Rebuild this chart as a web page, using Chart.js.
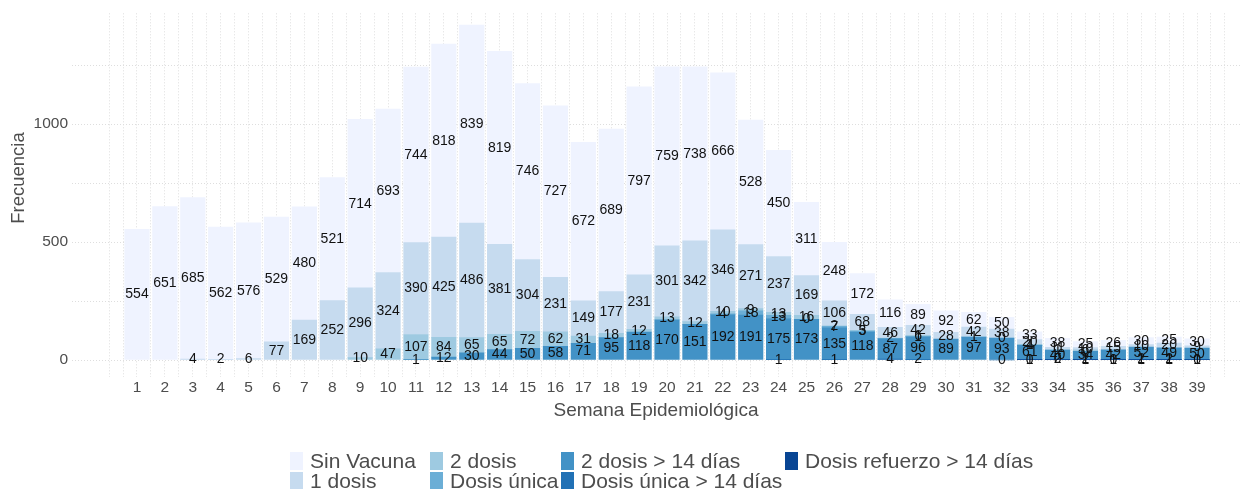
<!DOCTYPE html>
<html>
<head>
<meta charset="utf-8">
<script src="https://cdn.jsdelivr.net/npm/chart.js@4.4.0/dist/chart.umd.min.js"></script>
<style>
  body { margin: 0; background: #fff; }
  #wrap { position: relative; width: 1244px; height: 489px; }
  #legend {
    position: absolute; left: 290px; top: 451px;
    display: grid; grid-template-rows: 20px 20px; grid-template-columns: 140px 131px 224px auto;
    grid-auto-flow: column;
    font-family: "Liberation Sans", Arial, sans-serif; font-size: 21px; color: #4d4d4d;
  }
  .item { display: flex; align-items: center; white-space: nowrap; }
  .sw { width: 13px; height: 18px; margin-right: 7px; flex: none; }
</style>
</head>
<body>
<div id="wrap">
  <canvas id="grafico" width="1244" height="489"></canvas>
  <div id="legend"></div>
</div>
<script>
// ---------------------------- datos ----------------------------
const semanas = [1,2,3,4,5,6,7,8,9,10,11,12,13,14,15,16,17,18,19,20,21,22,23,24,25,26,27,28,29,30,31,32,33,34,35,36,37,38,39];

const sinVacuna = [554,651,685,562,576,529,480,521,714,693,744,818,839,819,746,727,672,689,797,759,738,666,528,450,311,248,172,116,89,92,62,50,33,38,25,26,30,25,30];
const unaDosis = [null,null,4,2,6,77,169,252,296,324,390,425,486,381,304,231,149,177,231,301,342,346,271,237,169,106,68,46,42,28,42,38,20,11,10,15,10,20,9];
const dosDosis = [null,null,null,null,null,null,null,null,10,47,107,84,65,65,72,62,31,18,12,13,12,10,9,13,16,2,3,2,6,null,1,0,4,1,6,null,null,null,null];
const dosisUnica = [null,null,null,null,null,null,null,null,null,null,null,null,null,null,null,null,null,null,null,null,null,4,18,13,0,7,5,null,1,null,null,null,1,null,null,null,null,null,null];
const dosDosis14 = [null,null,null,null,null,null,null,null,null,null,1,12,30,44,50,58,71,95,118,170,151,192,191,175,173,135,118,87,96,89,97,93,61,40,34,42,52,49,50];
const unica14 = [null,null,null,null,null,null,null,null,null,null,null,null,null,null,null,null,null,null,null,null,null,null,null,1,null,1,null,4,2,null,null,0,0,0,2,0,2,2,0];
const refuerzo14 = [null,null,null,null,null,null,null,null,null,null,null,null,null,null,null,null,null,null,null,null,null,null,null,null,null,null,null,null,null,null,null,null,1,2,1,1,1,1,1];

const ticksY = [0,250,500,750,1000,1250];

// orden de la leyenda (arriba del apilado primero)
const series = [
  { label: 'Sin Vacuna', data: sinVacuna, color: '#eff3ff' },
  { label: '1 dosis', data: unaDosis, color: '#c6dbef' },
  { label: '2 dosis', data: dosDosis, color: '#9ecae1' },
  { label: 'Dosis única', data: dosisUnica, color: '#6baed6' },
  { label: '2 dosis > 14 días', data: dosDosis14, color: '#4292c6' },
  { label: 'Dosis única > 14 días', data: unica14, color: '#2171b5' },
  { label: 'Dosis refuerzo > 14 días', data: refuerzo14, color: '#084594' }
];

// lineas de la grilla en x (cada media semana)
const ticksX = [];
for (let v = 0; v <= 40; v += 0.5) ticksX.push(v);

const fuente = '"Liberation Sans", Arial, sans-serif';
Chart.defaults.font.family = fuente;

// etiquetas centradas en cada segmento + titulo del eje y
const etiquetas = {
  id: 'etiquetas',
  afterDatasetsDraw(chart) {
    const ctx = chart.ctx;
    ctx.save();
    ctx.font = '14px ' + fuente;
    ctx.fillStyle = '#111';
    ctx.textAlign = 'center';
    ctx.textBaseline = 'middle';
    chart.data.datasets.forEach((ds, i) => {
      const meta = chart.getDatasetMeta(i);
      meta.data.forEach((bar, j) => {
        const v = ds.data[j];
        if (v === null || v === undefined) return;
        ctx.fillText(String(v), bar.x, (bar.y + bar.base) / 2);
      });
    });
    ctx.restore();
  },
  afterDraw(chart) {
    const ctx = chart.ctx;
    ctx.save();
    ctx.translate(19, 178);
    ctx.rotate(-Math.PI / 2);
    ctx.font = '18.5px ' + fuente;
    ctx.fillStyle = '#4d4d4d';
    ctx.textAlign = 'center';
    ctx.textBaseline = 'middle';
    ctx.fillText('Frecuencia', 0, 0);
    ctx.restore();
  }
};

const datasets = series.slice().reverse().map(s => ({
  label: s.label,
  data: s.data,
  backgroundColor: s.color,
  borderWidth: 0,
  barThickness: 'flex',
  barPercentage: 0.88,
  categoryPercentage: 1
}));

const grid = { color: '#dedede', lineWidth: 1, drawTicks: false };

new Chart(document.getElementById('grafico'), {
  type: 'bar',
  data: { labels: semanas, datasets: datasets },
  options: {
    responsive: false,
    animation: false,
    layout: { padding: { top: 1, right: 4, bottom: 64, left: 0 } },
    plugins: { legend: { display: false }, tooltip: { enabled: false } },
    scales: {
      x: {
        type: 'linear',
        stacked: true,
        offset: false,
        min: -1.33,
        max: 40.54,
        grid: Object.assign({ offset: false }, grid),
        border: { display: false, dash: [1, 2] },
        afterBuildTicks: s => { s.ticks = ticksX.map(v => ({ value: v })); },
        afterFit: s => { s.height = 48; },
        ticks: {
          autoSkip: false, maxRotation: 0, minRotation: 0, padding: 1,
          color: '#4d4d4d', font: { size: 15.5 },
          callback: v => (Number.isInteger(v) && v >= 1 && v <= 39) ? String(v) : ''
        },
        title: { display: true, text: 'Semana Epidemiológica', color: '#4d4d4d', font: { size: 19 }, padding: { top: 0, bottom: 3 } }
      },
      y: {
        stacked: true,
        min: -72,
        max: 1470,
        grid: grid,
        border: { display: false, dash: [1, 2] },
        afterBuildTicks: s => { s.ticks = ticksY.map(v => ({ value: v })); },
        afterFit: s => { s.width = 72; },
        ticks: {
          padding: 4, color: '#4d4d4d', font: { size: 15.5 },
          callback: v => (v % 500 === 0) ? String(v) : ''
        },
        title: { display: false }
      }
    }
  },
  plugins: [etiquetas]
});

// leyenda
const leyenda = document.getElementById('legend');
series.forEach(s => {
  const item = document.createElement('div');
  item.className = 'item';
  const sw = document.createElement('span');
  sw.className = 'sw';
  sw.style.background = s.color;
  const txt = document.createElement('span');
  txt.textContent = s.label;
  item.appendChild(sw);
  item.appendChild(txt);
  leyenda.appendChild(item);
});
</script>
</body>
</html>
